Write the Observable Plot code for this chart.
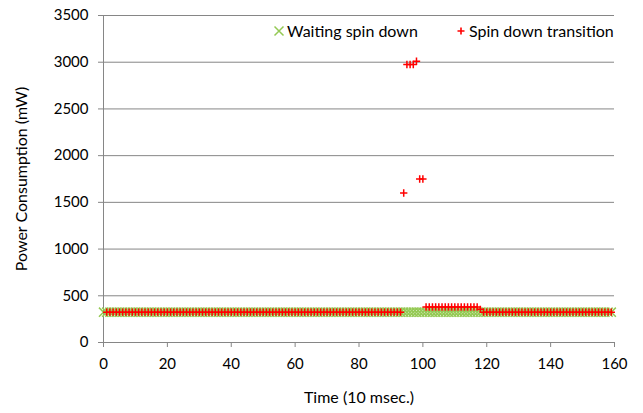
<!DOCTYPE html>
<html><head><meta charset="utf-8">
<script src="https://cdn.jsdelivr.net/npm/d3@7"></script>
<script src="https://cdn.jsdelivr.net/npm/@observablehq/plot@0.6"></script>
<style>
body{margin:0;background:#fff;font-family:Lato,sans-serif;}
#wrap{position:relative;width:643px;height:413px;}
.leg{position:absolute;top:21px;height:20px;font-size:16px;line-height:20px;color:#000;white-space:nowrap;display:flex;align-items:center;}
.leg svg{margin-right:2px;}
</style></head><body><div id="wrap"></div>
<script>
const xTicks = [0,20,40,60,80,100,120,140,160];
const yTicks = [0,500,1000,1500,2000,2500,3000,3500];
const seriesNames = ["Waiting spin down","Spin down transition"];
const xLabel = "Time (10 msec.)";
const yLabel = "Power Consumption (mW)";

const waitingTime = [
0,1,2,3,4,5,6,7,8,9,10,11,12,13,14,15,16,17,18,19,
20,21,22,23,24,25,26,27,28,29,30,31,32,33,34,35,36,37,38,39,
40,41,42,43,44,45,46,47,48,49,50,51,52,53,54,55,56,57,58,59,
60,61,62,63,64,65,66,67,68,69,70,71,72,73,74,75,76,77,78,79,
80,81,82,83,84,85,86,87,88,89,90,91,92,93,94,95,96,97,98,99,
100,101,102,103,104,105,106,107,108,109,110,111,112,113,114,115,116,117,118,119,
120,121,122,123,124,125,126,127,128,129,130,131,132,133,134,135,136,137,138,139,
140,141,142,143,144,145,146,147,148,149,150,151,152,153,154,155,156,157,158,159];
const waitingPower = [
325,325,325,325,325,325,325,325,325,325,325,325,325,325,325,325,325,325,325,325,
325,325,325,325,325,325,325,325,325,325,325,325,325,325,325,325,325,325,325,325,
325,325,325,325,325,325,325,325,325,325,325,325,325,325,325,325,325,325,325,325,
325,325,325,325,325,325,325,325,325,325,325,325,325,325,325,325,325,325,325,325,
325,325,325,325,325,325,325,325,325,325,325,325,325,325,325,325,325,325,325,325,
325,325,325,325,325,325,325,325,325,325,325,325,325,325,325,325,325,325,325,325,
325,325,325,325,325,325,325,325,325,325,325,325,325,325,325,325,325,325,325,325,
325,325,325,325,325,325,325,325,325,325,325,325,325,325,325,325,325,325,325,325];

const transitionTime = [
1,2,3,4,5,6,7,8,9,10,11,12,13,14,15,16,17,18,19,
20,21,22,23,24,25,26,27,28,29,30,31,32,33,34,35,36,37,38,39,
40,41,42,43,44,45,46,47,48,49,50,51,52,53,54,55,56,57,58,59,
60,61,62,63,64,65,66,67,68,69,70,71,72,73,74,75,76,77,78,79,
80,81,82,83,84,85,86,87,88,89,90,91,92,93,94,95,96,97,98,99,
100,101,102,103,104,105,106,107,108,109,110,111,112,113,114,115,116,117,118,119,
120,121,122,123,124,125,126,127,128,129,130,131,132,133,134,135,136,137,138,139,
140,141,142,143,144,145,146,147,148,149,150,151,152,153,154,155,156,157,158,159];
const transitionPower = [
325,325,325,325,325,325,325,325,325,325,325,325,325,325,325,325,325,325,325,
325,325,325,325,325,325,325,325,325,325,325,325,325,325,325,325,325,325,325,325,
325,325,325,325,325,325,325,325,325,325,325,325,325,325,325,325,325,325,325,325,
325,325,325,325,325,325,325,325,325,325,325,325,325,325,325,325,325,325,325,325,
325,325,325,325,325,325,325,325,325,325,325,325,325,325,1600,2975,2975,2975,3010,1750,
1750,380,380,380,380,380,380,380,380,380,380,380,380,380,380,380,380,380,355,325,
325,325,325,325,325,325,325,325,325,325,325,325,325,325,325,325,325,325,325,325,
325,325,325,325,325,325,325,325,325,325,325,325,325,325,325,325,325,325,325,325];

const waiting = waitingTime.map((t, i) => ({t, p: waitingPower[i]}));
const transition = transitionTime.map((t, i) => ({t, p: transitionPower[i]}));

const green = "#94C954";
const red = "#FF0000";
const gray = "#868686";

const chart = Plot.plot({
  width: 643, height: 413,
  marginLeft: 103, marginRight: 29, marginTop: 15, marginBottom: 71,
  style: {fontFamily: "Lato, sans-serif", fontSize: "15px", color: "#000", background: "#fff", overflow: "visible"},
  x: {domain: [0, 160]},
  y: {domain: [0, 3500]},
  marks: [
    Plot.gridY(yTicks, {stroke: gray, strokeOpacity: 1, strokeWidth: 1}),
    Plot.ruleX([0], {stroke: gray, strokeWidth: 1}),
    Plot.axisY({ticks: yTicks, tickFormat: d => String(d), tickSize: 5, tickPadding: 10, stroke: gray, fill: "#000",
      fontSize: 15, label: yLabel, labelAnchor: "center", labelArrow: "none", labelOffset: 88}),
    Plot.axisX({ticks: xTicks, tickFormat: d => String(d), tickSize: 5, tickPadding: 11, stroke: gray, fill: "#000",
      fontSize: 15, label: xLabel, labelAnchor: "center", labelArrow: "none", labelOffset: 60}),
    Plot.dot(waiting, {x: "t", y: "p", symbol: "times", r: 4.2, stroke: green, strokeWidth: 1.5}),
    Plot.dot(transition, {x: "t", y: "p", symbol: "plus", r: 2.5, stroke: red, strokeWidth: 1.5})
  ]
});
const wrap = document.getElementById("wrap");
wrap.appendChild(chart);
d3.select(chart).selectAll("[aria-label='y-axis label'] text, [aria-label='x-axis label'] text").style("font-size", "16px");

function legendItem(left, name, svgInner) {
  const d = document.createElement("div");
  d.className = "leg";
  d.style.left = left + "px";
  d.innerHTML = `<svg width="12" height="12" viewBox="-6 -6 12 12">${svgInner}</svg><span>${name}</span>`;
  wrap.appendChild(d);
}
legendItem(273, seriesNames[0], `<path d="M-4.5,-4.5L4.5,4.5M-4.5,4.5L4.5,-4.5" stroke="${green}" stroke-width="1.5" fill="none"/>`);
legendItem(455, seriesNames[1], `<path d="M-3.5,0H3.5M0,-3.5V3.5" stroke="${red}" stroke-width="1.6" fill="none"/>`);
</script></body></html>
